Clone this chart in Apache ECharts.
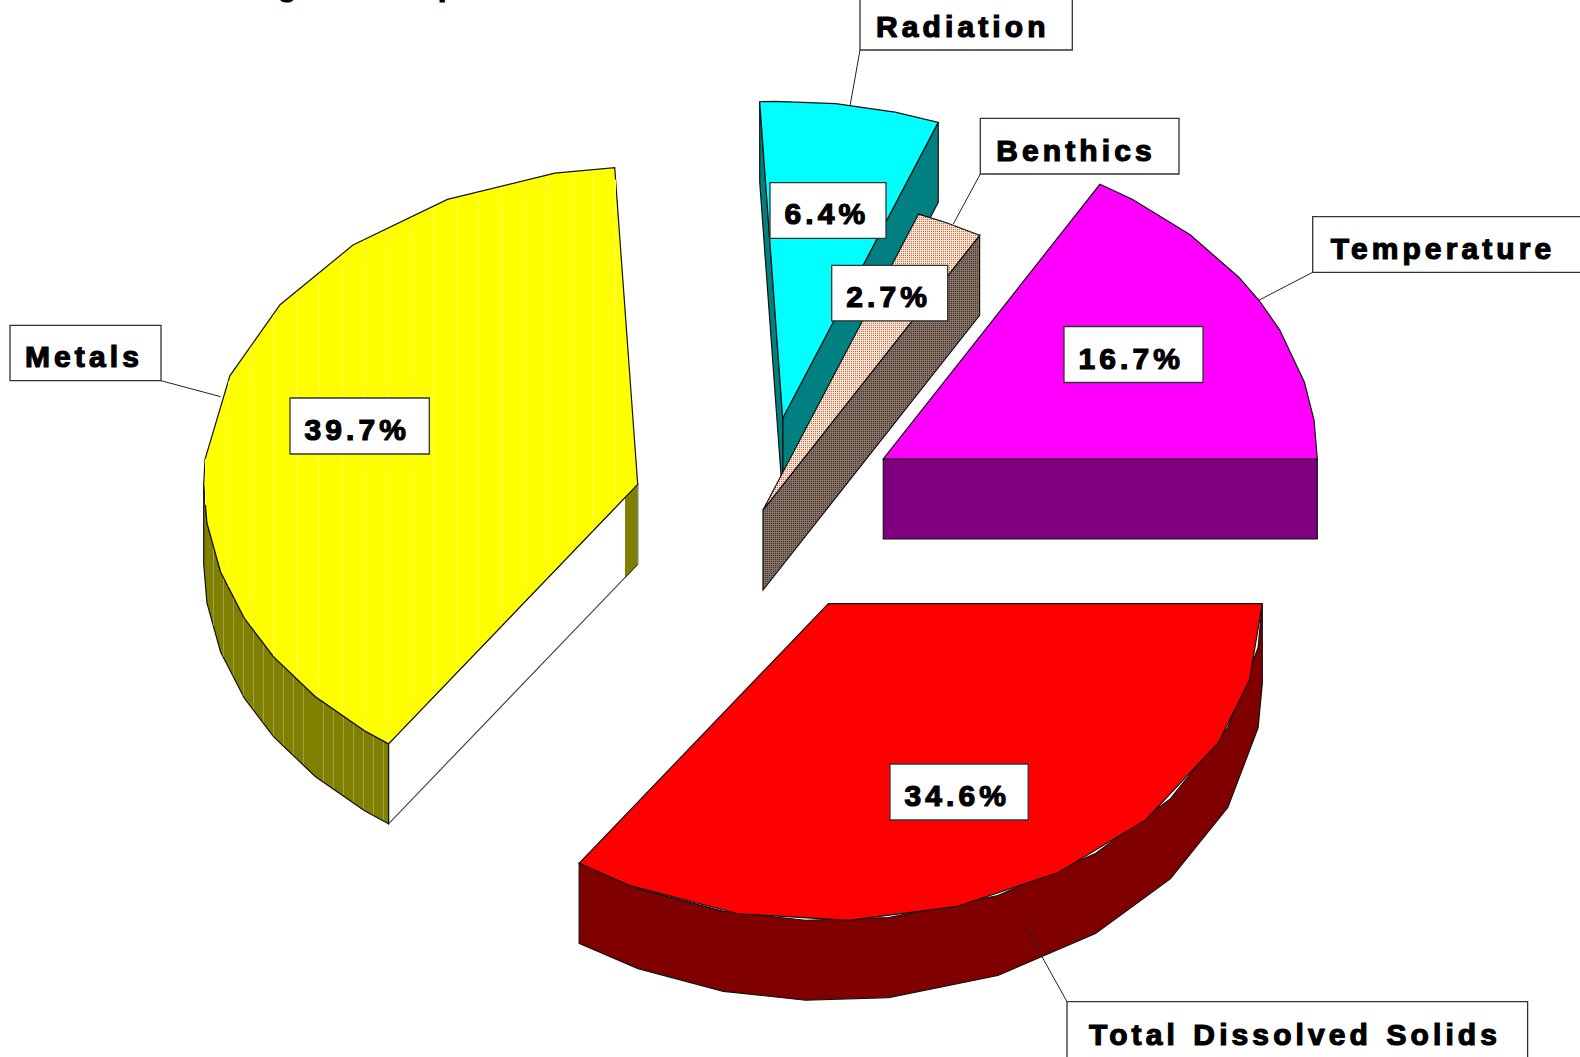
<!DOCTYPE html>
<html>
<head>
<meta charset="utf-8">
<title>Pie</title>
<script src="https://cdn.jsdelivr.net/npm/echarts@6/dist/echarts.min.js"></script>
<style>
html,body{margin:0;padding:0;background:#fff;overflow:hidden}
#c{width:1580px;height:1057px}
svg text{letter-spacing:4.1px;word-spacing:2px}
</style>
</head>
<body>
<div id="c"></div>
<script>
// ---- data ----
const categories = ['Temperature', 'Benthics', 'Radiation', 'Metals', 'Total Dissolved Solids'];
const shares = [16.7, 2.7, 6.4, 39.7, 34.6];
const titleFragments = ['g', 'p'];

// ---- styling / layout (no data values) ----
const RX = 434, RY = 317, DEPTH = 80;
const anchors = [[883.3, 459], [763, 510], [782.7, 418.3], [637.7, 484.3], [828.3, 603.7]];
const topColors = ['#ff00ff', null, '#00ffff', '#ffff00', '#ff0000'];
const sideColors = ['#800080', null, '#008080', '#808000', '#800000'];
const drawOrder = [1, 3, 2, 4, 5];
// small drawing adjustment (degrees) of the edge after each slice
const edgeNudge = [0, -0.77, 0.25, -0.6, 0];
const topVertices = [
  [7, 14, 24, 30, 35, 45, 55],
  [65],
  [75, 83, 91],
  [101, 116, 131, 145.5, 160, 175.5, 180, 187, 196, 205, 213, 222, 231],
  [242.7, 258, 272.7, 287.3, 302, 317, 334, 346]
];
const wallVertices = [
  [], [], [],
  [187, 196, 205, 213, 222, 231],
  [244, 256, 267, 278, 293, 308, 322, 337, 352]
];
const percentBoxes = [
  [1064, 326.5, 139, 56], [831.7, 265.3, 116, 55.5], [770, 182.7, 116, 55.6],
  [290, 398, 139.3, 56], [890, 764, 138.2, 56]
];
const nameBoxes = [
  [1312.7, 216.7, 290, 55.6], [980.3, 118.3, 198.7, 55.7], [860, -6, 212.3, 56],
  [10, 325.3, 151, 55.4], [1067, 1001.7, 460.6, 70]
];
const leaderEnds = [[1259.3, 300], [953.3, 224], [850, 106], [220.7, 396.7], [1024.3, 925]];
const leaderStarts = [[1312.7, 272.3], [980.3, 174], [860, 50], [161, 380.7], [1067, 1001.7]];
const nameInset = [18, 16, 16, 15, 22];
const fragmentPos = [[278, -30], [438, -30]];
const FONT = "bold 30px 'Liberation Sans', Arial, sans-serif";
const TEXT_RISE = 27; // distance from the text's top anchor to its baseline

function stipple(cols) {
  const cv = document.createElement('canvas');
  cv.width = cv.height = 2;
  const g = cv.getContext('2d');
  cols.forEach((c, k) => { g.fillStyle = c; g.fillRect(k % 2, k >> 1, 1, 1); });
  return { image: cv, repeat: 'repeat' };
}
const benthicTop = stipple(['#ffe6d8', '#ffdcc8', '#ffdcc8', '#a87858']);
const benthicSide = stipple(['#887870', '#806c60', '#806c60', '#483428']);

const total = shares.reduce((a, b) => a + b, 0);
const edges = [0];
shares.reduce((acc, v, i) => { const n = acc + v / total * 360; edges[i + 1] = n + edgeNudge[i]; return n; }, 0);

function pt(i, deg, drop) {
  const r = deg * Math.PI / 180;
  return [anchors[i][0] + RX * Math.cos(r), anchors[i][1] - RY * Math.sin(r) + (drop || 0)];
}
function inRange(list, a, b) { return list.filter(d => d > a + 0.3 && d < b - 0.3); }
function cutFace(i, deg) {
  return [pt(i, deg, 0), anchors[i].slice(), [anchors[i][0], anchors[i][1] + DEPTH], pt(i, deg, DEPTH)];
}
function span(poly, x) {
  let lo = Infinity, hi = -Infinity;
  for (let k = 0; k < poly.length; k++) {
    const a = poly[k], b = poly[(k + 1) % poly.length];
    if ((a[0] - x) * (b[0] - x) <= 0 && a[0] !== b[0]) {
      const y = a[1] + (b[1] - a[1]) * (x - a[0]) / (b[0] - a[0]);
      lo = Math.min(lo, y); hi = Math.max(hi, y);
    }
  }
  return hi > lo ? [lo, hi] : null;
}

function renderSlice(params, api) {
  const i = params.dataIndex;
  const a = edges[i], b = edges[i + 1];
  const base = drawOrder[i] * 100;
  const kids = [];
  const side = sideColors[i] || benthicSide;
  const top = topColors[i] || benthicTop;
  const line = { stroke: '#111', lineWidth: 1.2 };
  const poly = (pts, fill, z, st) => kids.push({
    type: 'polygon', z2: base + z,
    shape: { points: pts }, style: Object.assign({ fill }, line, st || {})
  });
  const cosA = Math.cos(a * Math.PI / 180), cosB = Math.cos(b * Math.PI / 180);
  if (cosA > 0.001) poly(cutFace(i, a), side, 1);
  if (cosB < -0.001) {
    if (i === 3) {
      // this slice's cut face shows as an empty panel with a thin shaded end
      poly(cutFace(i, b), '#ffffff', 1, { stroke: '#444' });
      const w = 12.7, p0 = anchors[i], p1 = pt(i, b, 0), t = w / (p0[0] - p1[0]);
      const q = [p0[0] - w, p0[1] + (p1[1] - p0[1]) * t];
      poly([p0.slice(), q, [q[0], q[1] + DEPTH], [p0[0], p0[1] + DEPTH]], side, 2, { stroke: 'none' });
      kids.push({ type: 'polyline', z2: base + 3, shape: { points: [p0.slice(), [p0[0], p0[1] + DEPTH]] }, style: { stroke: '#888', lineWidth: 1, fill: 'none' } });
      kids.push({ type: 'polyline', z2: base + 3, shape: { points: [[p0[0], p0[1] + DEPTH], [q[0], q[1] + DEPTH]] }, style: { stroke: '#333', lineWidth: 1, fill: 'none' } });
    } else {
      poly(cutFace(i, b), side, 1);
    }
  }
  const wa = Math.max(a, 180);
  let wallPoly = null;
  if (b > 180) {
    const ang = [wa].concat(inRange(wallVertices[i], wa, b), [b]);
    const upper = ang.map(d => pt(i, d, 0));
    const lower = ang.slice().reverse().map(d => pt(i, d, DEPTH));
    wallPoly = upper.concat(lower);
    poly(wallPoly, side, 4);
  }
  const ang = [a].concat(inRange(topVertices[i], a, b), [b]);
  const topPoly = [anchors[i].slice()].concat(ang.map(d => pt(i, d, 0)));
  poly(topPoly, top, 6);

  if (i === 3) {
    // faint vertical hatching of this slice
    for (let n = 0; n < 19; n++) {
      const x = Math.round(204.7 + 22.8 * n) + 0.5;
      const s = span(topPoly, x);
      if (s) kids.push({ type: 'line', z2: base + 7, shape: { x1: x, y1: s[0] + 1, x2: x, y2: s[1] - 1 }, style: { stroke: '#ffff50', lineWidth: 1 } });
    }
    for (let n = 0; n < 18; n++) {
      if (n === 10) continue;
      const x = Math.round(213.3 + 10 * n) + 0.5;
      const s = span(wallPoly, x);
      if (s) {
        const topS = span(topPoly, x);
        const y0 = topS ? Math.max(topS[1], s[0]) : s[0];
        kids.push({ type: 'line', z2: base + 5, shape: { x1: x, y1: y0 + 1, x2: x, y2: s[1] - 1 }, style: { stroke: '#a0a050', lineWidth: 1 } });
      }
    }
  }
  return { type: 'group', children: kids };
}

function textEl(str, x, y, z) {
  return {
    type: 'text', z2: z,
    style: { text: str, x, y, font: FONT, fill: '#000', stroke: '#000', lineWidth: 1.2, align: 'left', verticalAlign: 'top' }
  };
}
function renderLabel(params, api) {
  const i = params.dataIndex;
  const pct = api.value(0).toFixed(1) + '%';
  const nb = nameBoxes[i], pb = percentBoxes[i];
  const box = (b, z) => ({
    type: 'rect', z2: z, shape: { x: b[0], y: b[1], width: b[2], height: b[3] },
    style: { fill: '#fff', stroke: '#333', lineWidth: 1.3 }
  });
  const nameBase = i === 4 ? 1046 : nb[1] + nb[3] - 12;
  return {
    type: 'group',
    children: [
      { type: 'line', z2: 1, shape: { x1: leaderStarts[i][0], y1: leaderStarts[i][1], x2: leaderEnds[i][0], y2: leaderEnds[i][1] }, style: { stroke: '#222', lineWidth: 1 } },
      box(nb, 2),
      textEl(categories[i], nb[0] + nameInset[i], nameBase - TEXT_RISE, 3),
      box(pb, 4),
      textEl(pct, pb[0] + 14.5, pb[1] + pb[3] - 12.4 - TEXT_RISE, 5)
    ]
  };
}
function renderFragment(params) {
  const p = fragmentPos[params.dataIndex];
  return textEl(titleFragments[params.dataIndex], p[0], p[1], 1);
}

const chart = echarts.init(document.getElementById('c'), null, { renderer: 'svg' });
chart.setOption({
  animation: false,
  backgroundColor: '#ffffff',
  series: [
    { type: 'custom', coordinateSystem: 'none', z: 2, renderItem: renderSlice, silent: true,
      data: shares.map((v, k) => ({ name: categories[k], value: [v] })) },
    { type: 'custom', coordinateSystem: 'none', z: 3, renderItem: renderLabel, silent: true,
      data: shares.map((v, k) => ({ name: categories[k], value: [v] })) },
    { type: 'custom', coordinateSystem: 'none', z: 1, renderItem: renderFragment, silent: true,
      data: titleFragments.map(t => ({ name: t, value: [0] })) }
  ]
});
</script>
</body>
</html>
